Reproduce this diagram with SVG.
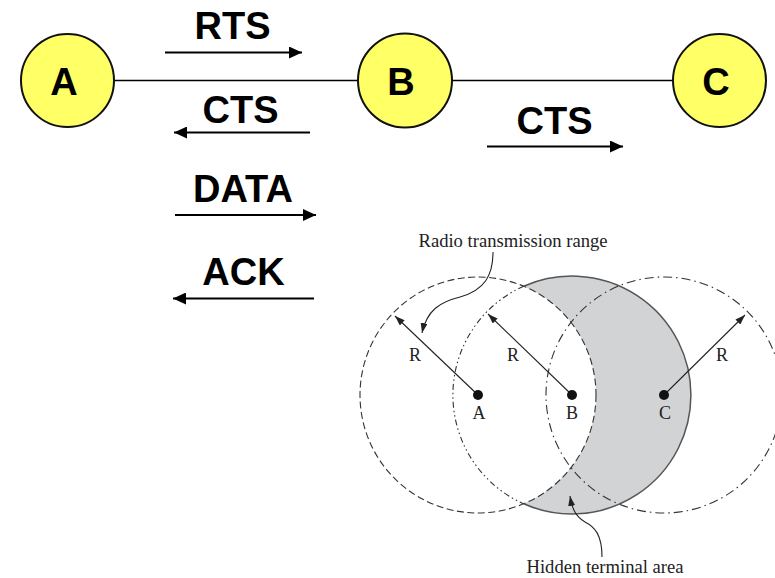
<svg xmlns="http://www.w3.org/2000/svg" width="775" height="578" viewBox="0 0 775 578">
<style>
.node{fill:#ffff66;stroke:#111;stroke-width:2}
.nl{font-family:"Liberation Sans",Arial,sans-serif;font-weight:bold;font-size:38px;fill:#000;text-anchor:middle}
.msg{font-family:"Liberation Sans",Arial,sans-serif;font-weight:bold;font-size:38px;fill:#000;text-anchor:middle}
.link{stroke:#000;stroke-width:1.5;fill:none}
.arr{stroke:#000;stroke-width:2.2;fill:none;marker-end:url(#ah)}
.ser{font-family:"Liberation Serif","Times New Roman",serif;font-size:18px;fill:#222;text-anchor:middle}
.big{font-size:18.6px}
.rad{stroke:#222;stroke-width:1.1;fill:none;marker-end:url(#sh)}
.ptr{stroke:#222;stroke-width:1.1;fill:none;marker-end:url(#sh)}
.rng{fill:none;stroke:#333;stroke-width:1.1}
</style>
<defs>
<marker id="ah" markerWidth="13" markerHeight="12" refX="13" refY="6" orient="auto" markerUnits="userSpaceOnUse"><path d="M0,0 L13,6 L0,12 z" fill="#000"/></marker>
<marker id="sh" markerWidth="10" markerHeight="7" refX="10" refY="3.5" orient="auto" markerUnits="userSpaceOnUse"><path d="M0,0 L10,3.5 L0,7 z" fill="#222"/></marker>
</defs>
<rect width="775" height="578" fill="#fff"/>

<g id="connectors">
<line class="link" x1="114" y1="80.5" x2="358" y2="80.5"/>
<line class="link" x1="452" y1="80.5" x2="673" y2="80.5"/>
<path class="arr" d="M165 52.5 H302"/>
<path class="arr" d="M310 132.5 H174"/>
<path class="arr" d="M487 146.5 H623"/>
<path class="arr" d="M175 215 H316"/>
<path class="arr" d="M314 298.5 H173"/>
</g>

<g id="node-A"><circle class="node" cx="67.5" cy="80.5" r="46.5"/><text class="nl" x="64" y="95">A</text></g>
<g id="node-B"><circle class="node" cx="405" cy="80.5" r="47"/><text class="nl" x="401" y="95">B</text></g>
<g id="node-C"><circle class="node" cx="719.5" cy="80.5" r="46.5"/><text class="nl" x="716" y="95">C</text></g>

<g id="labels">
<text class="msg" x="232.5" y="39">RTS</text>
<text class="msg" x="240.5" y="123">CTS</text>
<text class="msg" x="554.5" y="134">CTS</text>
<text class="msg" x="243" y="202">DATA</text>
<text class="msg" x="243.5" y="285">ACK</text>
</g>

<g id="range-diagram">
<path d="M523.7 286.2 A119 119 0 1 1 523.7 503.8 A118 118 0 0 0 523.7 286.2 Z" fill="#d1d3d4"/>
<circle class="rng" cx="664" cy="395" r="118" stroke-dasharray="9 4 1.5 4"/>
<circle class="rng" cx="478" cy="395" r="118" stroke-dasharray="7 3.5" stroke-width="1.2"/>
<path d="M523.7 286.2 A119 119 0 1 1 523.7 503.8" fill="none" stroke="#555" stroke-width="1.5"/>
<path class="rng" d="M523.7 286.2 A119 119 0 0 0 523.7 503.8" stroke-dasharray="6 3 1.5 3 1.5 3"/>
<path class="rad" d="M478 395 L395 316"/>
<path class="rad" d="M572 395 L488 314"/>
<path class="rad" d="M664 395 L745 315"/>
<circle cx="478" cy="395" r="5" fill="#111"/>
<circle cx="572" cy="395" r="5" fill="#111"/>
<circle cx="664" cy="395" r="5" fill="#111"/>
<text class="ser" x="415" y="361">R</text>
<text class="ser" x="513" y="361">R</text>
<text class="ser" x="722" y="361">R</text>
<text class="ser" x="479" y="419">A</text>
<text class="ser" x="572" y="419">B</text>
<text class="ser" x="665" y="419">C</text>
<text class="ser big" x="513" y="247">Radio transmission range</text>
<path class="ptr" d="M493 252 C493 275 485 290 460 297 C440 302 427 310 422 333"/>
<text class="ser big" x="605" y="573">Hidden terminal area</text>
<path class="ptr" d="M602 557 C602 535 595 527 585 522 C575 516 572 508 570 496"/>
</g>
</svg>
